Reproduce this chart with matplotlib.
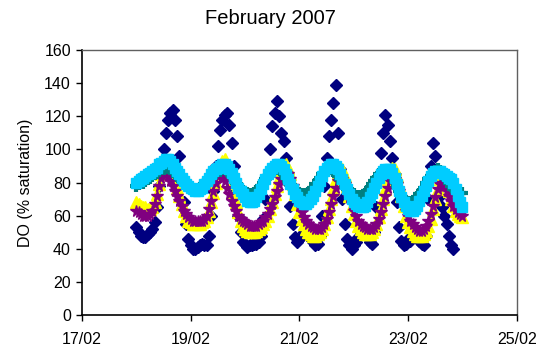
import matplotlib
matplotlib.use("Agg")
import matplotlib.pyplot as plt
import matplotlib.dates as mdates
import pandas as pd

plt.rcParams['font.family'] = ['Liberation Sans', 'DejaVu Sans']

# hourly readings from 18/02 00:00
times = pd.date_range('2007-02-18 00:00', periods=145, freq='h')

navy = [53, 50, 48, 47, 47, 49, 50, 52, 56, 65, 78, 90, 100, 110, 118, 122, 124, 118, 108, 96, 82, 68, 55, 46,
        42, 40, 40, 41, 42, 43, 42, 42, 48, 60, 75, 90, 102, 112, 118, 121, 122, 115, 104, 90, 75, 60, 50, 44,
        43, 41, 42, 42, 43, 43, 44, 48, 58, 70, 84, 100, 114, 122, 129, 120, 110, 105, 95, 80, 66, 55, 47, 44,
        46, 48, 50, 50, 48, 46, 44, 42, 43, 48, 60, 78, 95, 108, 118, 128, 139, 110, 88, 70, 55, 46, 42, 40,
        42, 44, 47, 50, 52, 50, 47, 44, 43, 50, 65, 82, 98, 110, 121, 115, 105, 95, 85, 68, 53, 45, 42, 43,
        46, 45, 47, 50, 48, 45, 43, 42, 48, 70, 90, 104, 96, 85, 72, 65, 60, 55, 48, 42, 40]

yellow = [68, 67, 66, 65, 65, 64, 64, 65, 68, 73, 79, 85, 89, 92, 93, 91, 87, 82, 77, 72, 67, 63, 60, 57,
          56, 55, 55, 55, 55, 56, 57, 59, 63, 68, 74, 80, 86, 90, 93, 94, 91, 86, 80, 74, 68, 62, 57, 54,
          52, 51, 50, 50, 50, 51, 52, 53, 55, 57, 60, 64, 68, 73, 78, 83, 87, 90, 91, 89, 85, 79, 73, 67,
          62, 58, 55, 52, 50, 49, 48, 48, 49, 50, 52, 55, 59, 64, 70, 76, 82, 86, 89, 88, 84, 78, 72, 66,
          61, 57, 54, 52, 50, 49, 49, 49, 50, 52, 55, 59, 64, 70, 76, 82, 86, 89, 88, 84, 78, 72, 66, 60,
          56, 53, 51, 49, 48, 48, 48, 49, 51, 54, 58, 64, 70, 76, 82, 85, 84, 80, 75, 70, 66, 63, 61, 60, 59]

purple = [63, 62, 61, 60, 60, 60, 61, 63, 67, 72, 78, 83, 86, 86, 84, 81, 78, 75, 72, 69, 66, 63, 61, 59,
          58, 57, 57, 57, 57, 57, 58, 60, 64, 69, 75, 80, 84, 85, 84, 81, 77, 73, 69, 66, 63, 60, 58, 57,
          56, 55, 54, 54, 54, 54, 55, 56, 57, 59, 61, 64, 67, 71, 75, 79, 82, 85, 86, 85, 82, 78, 74, 70,
          66, 62, 59, 57, 55, 54, 53, 52, 52, 52, 53, 55, 58, 62, 67, 72, 77, 81, 83, 82, 79, 75, 71, 67,
          63, 60, 57, 55, 54, 53, 52, 52, 52, 53, 55, 58, 62, 67, 72, 77, 81, 83, 82, 79, 75, 71, 67, 63,
          60, 57, 55, 53, 52, 51, 51, 52, 54, 57, 61, 66, 71, 76, 79, 80, 78, 75, 72, 69, 66, 64, 62, 61, 60]

teal = [78, 79, 80, 80, 81, 82, 83, 84, 85, 86, 87, 88, 88, 89, 89, 88, 87, 86, 84, 83, 81, 80, 79, 78,
        77, 76, 76, 76, 77, 78, 79, 81, 82, 84, 85, 86, 87, 87, 88, 88, 87, 86, 84, 82, 80, 78, 77, 75,
        74, 74, 73, 73, 74, 75, 76, 78, 80, 82, 84, 86, 87, 88, 88, 88, 87, 85, 83, 81, 79, 77, 76, 75,
        74, 73, 73, 73, 74, 75, 77, 79, 81, 83, 85, 86, 87, 88, 88, 87, 86, 84, 82, 80, 78, 76, 75, 74,
        73, 72, 72, 72, 72, 73, 75, 77, 79, 81, 83, 85, 86, 87, 87, 87, 86, 84, 81, 78, 75, 72, 70, 69,
        68, 68, 68, 69, 71, 73, 75, 77, 80, 82, 84, 86, 87, 88, 87, 86, 84, 82, 80, 78, 76, 75, 75, 74, 74]

cyan = [80, 81, 82, 83, 84, 85, 86, 87, 88, 89, 91, 92, 93, 94, 94, 93, 91, 89, 87, 85, 83, 81, 79, 78,
        77, 76, 75, 75, 76, 77, 79, 81, 83, 85, 87, 88, 89, 90, 91, 91, 90, 88, 86, 83, 80, 77, 75, 73,
        71, 69, 68, 68, 69, 71, 73, 76, 79, 82, 85, 87, 89, 90, 91, 91, 90, 88, 85, 82, 79, 76, 73, 71,
        69, 68, 67, 67, 68, 70, 72, 75, 78, 81, 84, 87, 89, 90, 91, 91, 90, 88, 85, 82, 79, 76, 73, 70,
        68, 67, 66, 65, 65, 66, 68, 71, 74, 77, 80, 83, 85, 87, 88, 88, 88, 86, 83, 79, 75, 71, 68, 66,
        64, 63, 63, 64, 66, 69, 72, 75, 78, 81, 84, 86, 87, 87, 87, 86, 85, 84, 83, 82, 80, 76, 72, 68, 65]

fig = plt.figure(figsize=(5.4, 3.58), dpi=100)
ax = fig.add_axes([0.152, 0.12, 0.805, 0.74])

ax.plot(times[:len(navy)], navy, 'D', color='#000080', ms=6.5, mec='#000080', ls='none')
ax.plot(times, yellow, '^', color='#FFFF00', ms=8, mec='#FFFF00', ls='none')
ax.plot(times, purple, '*', color='#800080', ms=8.5, mec='#800080', ls='none')
ax.plot(times, teal, '+', color='#008080', ms=8.5, mew=3, ls='none')
ax.plot(times, cyan, 's', color='#00CCFF', ms=6.5, mec='#00CCFF', ls='none')

ax.set_xlim(pd.Timestamp('2007-02-17'), pd.Timestamp('2007-02-25'))
ax.set_ylim(0, 160)
ax.set_yticks(range(0, 161, 20))
ax.xaxis.set_major_locator(mdates.DayLocator(interval=2))
ax.xaxis.set_major_formatter(mdates.DateFormatter('%d/%m'))
ax.tick_params(direction='out', length=4.5, width=1, labelsize=11.5, colors='black')
ax.tick_params(axis='x', pad=8)

for side in ['left', 'bottom']:
    ax.spines[side].set_color('black')
    ax.spines[side].set_linewidth(1.2)
for side in ['top', 'right']:
    ax.spines[side].set_color('#606060')
    ax.spines[side].set_linewidth(1)

ax.set_ylabel('DO (% saturation)', fontsize=11.5, labelpad=8)
fig.suptitle('February 2007', fontsize=14.5, y=0.975)

fig.savefig('out.png', dpi=100)
